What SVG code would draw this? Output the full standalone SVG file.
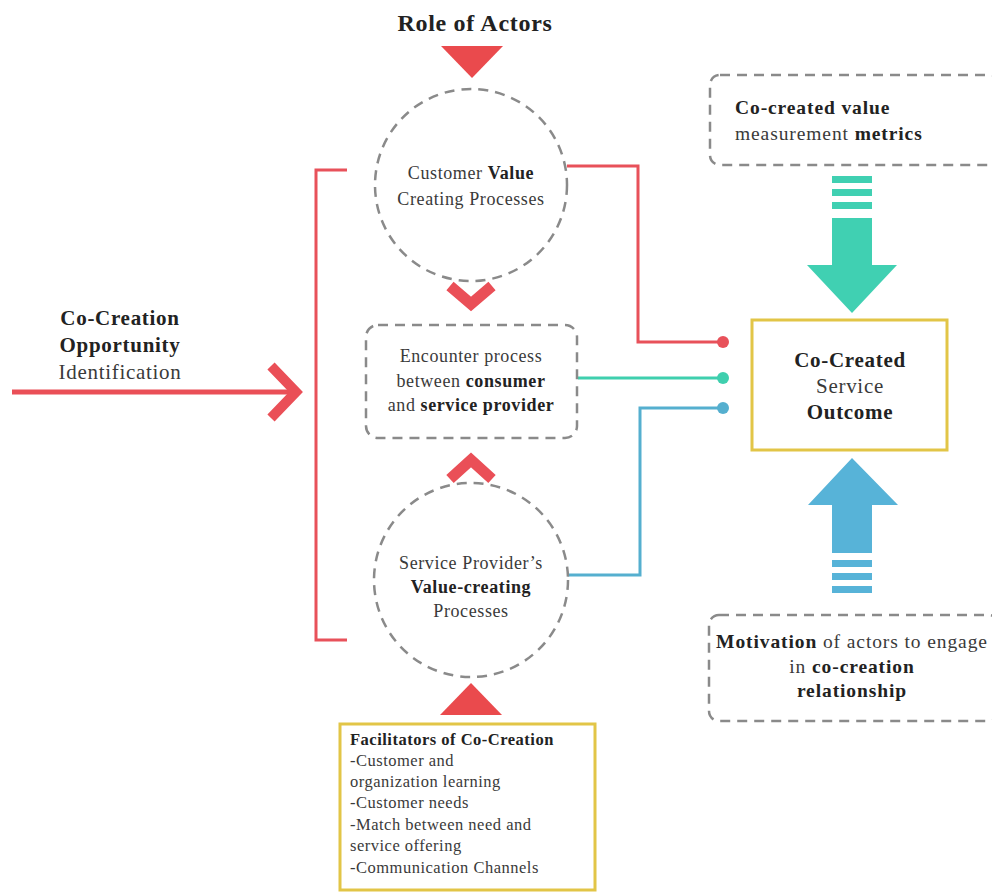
<svg xmlns="http://www.w3.org/2000/svg" width="992" height="894" viewBox="0 0 992 894">
<style>
text{fill:#3a3a3a;}
.b{font-weight:bold;fill:#222;}
.dash{fill:#fff;stroke:#8a8a8a;stroke-width:2.5;stroke-dasharray:10 7;}
.yel{fill:#fff;stroke:#E2C547;stroke-width:3;}
.red{stroke:#E8515A;fill:none;stroke-width:3;}
.grn{stroke:#3FCFAE;fill:none;stroke-width:3;}
.blu{stroke:#55AFCF;fill:none;stroke-width:3;}
.m{font-size:18px;letter-spacing:0.6px;}
.f{font-size:16.5px;letter-spacing:0.5px;}
.o{font-size:21px;letter-spacing:0.7px;}
.r{font-size:19.5px;letter-spacing:0.9px;}
</style>
<rect width="992" height="894" fill="#fff"/>
<g font-family="'Liberation Serif', 'Times New Roman', serif">
<g id="title">
<text x="475" y="31" text-anchor="middle" font-size="24" letter-spacing="0.7" class="b">Role of Actors</text>
<polygon points="441,46 503,46 472,78" fill="#EA4A4D"/>
</g>

<g id="connectors">
<polyline class="red" points="567,166 638,166 638,342 718,342"/>
<circle cx="723" cy="342" r="6" fill="#E8515A"/>
<polyline class="grn" points="578,378 718,378"/>
<circle cx="723" cy="378" r="6" fill="#3FCFAE"/>
<polyline class="blu" points="568,575 640,575 640,408 718,408"/>
<circle cx="723" cy="408" r="6" fill="#55AFCF"/>
<polyline points="347,170 316,170 316,640 347,640" class="red" stroke-width="4"/>
<line x1="12" y1="392" x2="294" y2="392" stroke="#EA4F57" stroke-width="5"/>
<polyline points="271,366 296,392 271,418" fill="none" stroke="#EA4F57" stroke-width="10"/>
<polyline points="450,286 471,304 492,286" fill="none" stroke="#EA4F57" stroke-width="11"/>
<polyline points="450,479 471,460 492,479" fill="none" stroke="#EA4F57" stroke-width="11"/>
<polygon points="440,715 502,715 471,683" fill="#EA4A4D"/>
</g>

<g id="opportunity">
<text x="120" y="325" text-anchor="middle" class="o b">Co-Creation</text>
<text x="120" y="352" text-anchor="middle" class="o b">Opportunity</text>
<text x="120" y="379" text-anchor="middle" class="o">Identification</text>
</g>

<g id="customer-value">
<circle cx="471" cy="185" r="96" class="dash"/>
<text x="471" y="179" text-anchor="middle" class="m">Customer <tspan class="b">Value</tspan></text>
<text x="471" y="205" text-anchor="middle" class="m">Creating Processes</text>
</g>

<g id="encounter">
<rect x="366" y="325" width="211" height="113" rx="12" class="dash"/>
<text x="471" y="362" text-anchor="middle" class="m">Encounter process</text>
<text x="471" y="387" text-anchor="middle" class="m">between <tspan class="b">consumer</tspan></text>
<text x="471" y="411" text-anchor="middle" class="m">and <tspan class="b">service provider</tspan></text>
</g>

<g id="provider-value">
<circle cx="471" cy="580" r="97" class="dash"/>
<text x="471" y="569" text-anchor="middle" class="m">Service Provider’s</text>
<text x="471" y="593" text-anchor="middle" class="m b">Value-creating</text>
<text x="471" y="617" text-anchor="middle" class="m">Processes</text>
</g>

<g id="facilitators">
<rect x="340" y="724" width="255" height="166" class="yel"/>
<text x="350" y="745" class="f b">Facilitators of Co-Creation</text>
<text x="350" y="766" class="f">-Customer and</text>
<text x="350" y="787" class="f">organization learning</text>
<text x="350" y="808" class="f">-Customer needs</text>
<text x="350" y="830" class="f">-Match between need and</text>
<text x="350" y="851" class="f">service offering</text>
<text x="350" y="873" class="f">-Communication Channels</text>
</g>

<g id="metrics">
<rect x="710" y="75" width="290" height="90" rx="10" class="dash"/>
<text x="735" y="114" class="r b">Co-created value</text>
<text x="735" y="140" class="r">measurement <tspan class="b">metrics</tspan></text>
</g>

<g id="metrics-arrow" fill="#40D0B2">
<rect x="832" y="176" width="40" height="7"/>
<rect x="832" y="189" width="40" height="7"/>
<rect x="832" y="202" width="40" height="7"/>
<polygon points="832,218 872,218 872,265 897,265 852,313 807,265 832,265"/>
</g>

<g id="outcome">
<rect x="752" y="320" width="195" height="130" class="yel"/>
<text x="850" y="367" text-anchor="middle" class="o b">Co-Created</text>
<text x="850" y="393" text-anchor="middle" class="o">Service</text>
<text x="850" y="419" text-anchor="middle" class="o b">Outcome</text>
</g>

<g id="motivation-arrow" fill="#57B3D8">
<polygon points="852,458 898,505 872,505 872,553 832,553 832,505 808,505"/>
<rect x="832" y="560" width="40" height="7"/>
<rect x="832" y="573" width="40" height="7"/>
<rect x="832" y="586" width="40" height="7"/>
</g>

<g id="motivation">
<rect x="709" y="615" width="290" height="106" rx="10" class="dash"/>
<text x="852" y="648" text-anchor="middle" class="r" letter-spacing="1"><tspan class="b">Motivation</tspan> of actors to engage</text>
<text x="852" y="673" text-anchor="middle" class="r">in <tspan class="b">co-creation</tspan></text>
<text x="852" y="697" text-anchor="middle" class="r b">relationship</text>
</g>
</g>
</svg>
